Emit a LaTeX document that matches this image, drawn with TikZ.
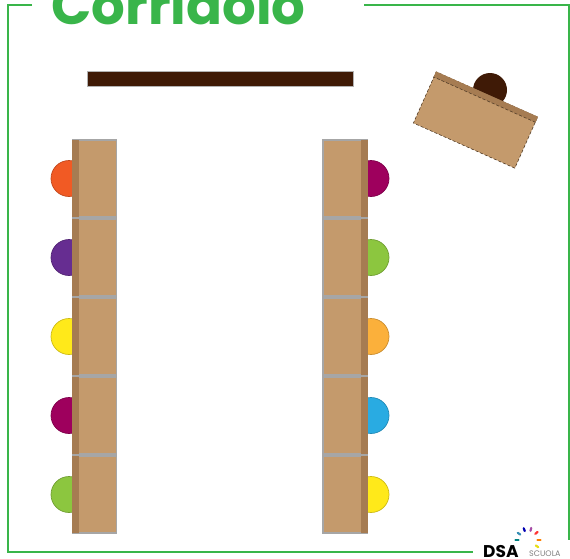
\documentclass[tikz,border=0pt]{standalone}
\usepackage{fontspec}
\setmainfont{Poppins}
\usetikzlibrary{calc}

\definecolor{wallgreen}{HTML}{39B54A}
\definecolor{deskbrown}{HTML}{C49A6C}
\definecolor{deskdark}{HTML}{A67C52}
\definecolor{boardbrown}{HTML}{3F1A06}
\definecolor{pupilorange}{HTML}{F15A24}
\definecolor{pupilpurple}{HTML}{662D91}
\definecolor{pupilyellow}{HTML}{FFE91A}
\definecolor{pupilmagenta}{HTML}{9E005D}
\definecolor{pupilgreen}{HTML}{8CC63F}
\definecolor{pupilamber}{HTML}{FBB03B}
\definecolor{pupilblue}{HTML}{29ABE2}

\tikzset{
  wall/.style={wallgreen, line width=2pt},
  desk/.style={rectangle, draw=gray!70, line width=1.5pt, fill=deskbrown, minimum width=44pt, minimum height=77pt, inner sep=0pt},
  pupil/.style={circle, draw=#1!80!black, fill=#1, line width=0.7pt, minimum size=36pt, inner sep=0pt},
  ray/.style={line width=2.2pt, line cap=round}
}

\begin{document}
\begin{tikzpicture}[x=1pt, y=-1pt]

  % Page frame
  \useasboundingbox (0,0) rectangle (570,558);

  % Corridor wall, open behind the title
  \coordinate (W1) at (32,5);
  \coordinate (W2) at (7.5,5);
  \coordinate (W3) at (7.5,551.5);
  \coordinate (W4) at (473,551.5);
  \coordinate (W5) at (364,5);
  \coordinate (W6) at (568.5,5);
  \coordinate (W7) at (568.5,540);
  \draw[wall] (W1) -- (W2) -- (W3) -- (W4);
  \draw[wall] (W5) -- (W6) -- (W7);
  \node[font=\fontsize{53}{53}\selectfont\bfseries, text=wallgreen, anchor=base, inner sep=0pt] (title) at (178.5,24) {Corridoio};

  % Blackboard
  \node[rectangle, draw=gray!60, line width=0.7pt, fill=boardbrown, minimum width=266pt, minimum height=15pt, inner sep=0pt] (board) at (220,78.5) {};

  % Teacher
  \node[circle, fill=boardbrown, minimum size=34pt, inner sep=0pt] (teacher) at (490,90) {};
  \node[rectangle, draw=deskdark!50!black, densely dashed, line width=0.6pt, fill=deskbrown, minimum width=111pt, minimum height=56pt, inner sep=0pt, rotate=-24] (T) at (475.5,120) {};
  \fill[deskdark] (T.north west) -- (T.north east) -- ($(T.north east)!6pt!(T.south east)$) -- ($(T.north west)!6pt!(T.south west)$) -- cycle;
  \draw[deskdark!50!black, densely dashed, line width=0.6pt] ($(T.north east)!6pt!(T.south east)$) -- ($(T.north west)!6pt!(T.south west)$);

  % Rows of pupils and desks
  \foreach \i/\y/\cl/\cr in {1/178.5/pupilorange/pupilmagenta, 2/257.5/pupilpurple/pupilgreen, 3/336.5/pupilyellow/pupilamber, 4/415.5/pupilmagenta/pupilblue, 5/494.5/pupilgreen/pupilyellow} {
    \node[pupil=\cl] (PL\i) at (69,\y) {};
    \node[pupil=\cr] (PR\i) at (371,\y) {};
    \node[desk] (L\i) at (94.5,\y) {};
    \node[desk] (R\i) at (345,\y) {};
    \fill[deskdark] ([yshift=1pt]L\i.south west) rectangle ([xshift=7pt, yshift=-1pt]L\i.north west);
    \fill[deskdark] ([yshift=1pt]R\i.south east) rectangle ([xshift=-7pt, yshift=-1pt]R\i.north east);
  }

  % Logo
  \node[font=\bfseries\fontsize{17}{17}\selectfont, text=black, anchor=base west, inner sep=0pt] (dsa) at (483,557) {DSA};
  \node[font=\fontsize{8}{8}\selectfont, text=gray, anchor=base west, inner sep=0pt] (scuola) at (529,556) {SCUOLA};
  \coordinate (sun) at (528,540);
  \foreach \a/\c in {180/teal, 215/cyan!70!black, 250/blue!70!black, 285/violet!70, 320/red!80, 360/orange, 395/yellow!90!black} {
    \draw[ray, \c] ($(sun)+(\a:9.5)$) -- ($(sun)+(\a:12.5)$);
  }

\end{tikzpicture}
\end{document}
